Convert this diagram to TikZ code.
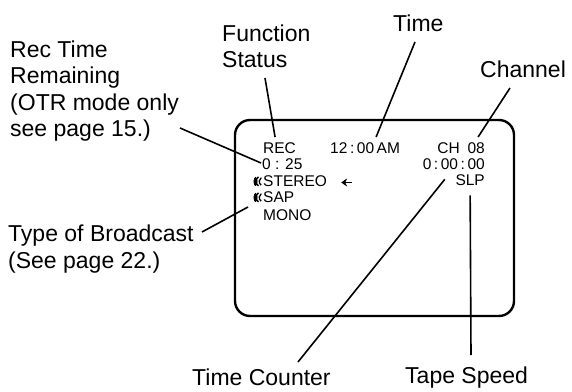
\documentclass[tikz,border=0pt]{standalone}
\usepackage{fontspec}
\setmainfont{Liberation Sans}
\usepackage{tikz}
\usetikzlibrary{arrows.meta}
\newcommand{\lblfont}{\fontsize{23}{26.5}\selectfont}
\newcommand{\osdfont}{\fontsize{15.5}{16.5}\selectfont}

\begin{document}
\begin{tikzpicture}[x=1pt,y=1pt,
  callout/.style={anchor=base west,inner sep=0pt,align=left,font=\lblfont},
  osdtxt/.style={anchor=base west,inner sep=0pt,font=\osdfont},
  leader/.style={line width=1.6pt}]
  \useasboundingbox (0,0) rectangle (572,391);
  % screen
  \draw[line width=2.4pt,rounded corners=15pt] (235,75) rectangle (514,271);
  \node[osdtxt] (rec) at (263,237) {REC};
  \node[osdtxt] (otr) at (262,221) {0 : 25};
  \node[osdtxt] (stereo) at (263,204) {STEREO};
  \node[osdtxt] (sap) at (263,188) {SAP};
  \node[osdtxt] (mono) at (263,171) {MONO};
  \node[osdtxt] (clock) at (330,237) {12\,:\,00\,AM};
  \node[osdtxt,anchor=base east] (ch) at (485,237) {CH\enspace 08};
  \node[osdtxt,anchor=base east] (count) at (485,221) {0\,:\,00\,:\,00};
  \node[osdtxt,anchor=base east] (slp) at (485,205) {SLP};
  \foreach \n in {stereo,sap}{
    \begin{scope}[shift={(\n.base west)}]
      \fill (-7.5,5.5) ellipse (2 and 4.5);
      \draw[line width=1.3pt] (-4.5,1) arc (235:125:5.6);
      \draw[line width=1.3pt] (-1.8,1.8) arc (235:125:4.6);
    \end{scope}}
  \draw[-{Stealth[length=6pt,width=8pt]},line width=1.5pt]
    ([xshift=25pt,yshift=4.5pt]stereo.base east) -- ++(-11,0);
  % callouts (multi-line: base is the last line)
  \node[callout] (rtr) at (10,254) {Rec Time\\Remaining\\(OTR mode only\\see page 15.)};
  \node[callout] (fs) at (222,323) {Function\\Status};
  \node[callout] (tm) at (393,359) {Time};
  \node[callout] (chn) at (480,313) {Channel};
  \node[callout] (tob) at (8,123) {Type of Broadcast\\(See page 22.)};
  \node[callout] (tcl) at (192,6) {Time Counter};
  \node[callout] (tsp) at (405,8) {Tape Speed};
  \coordinate (rtr-e) at (180,263);
  \coordinate (fs-e) at (265,313);
  \coordinate (tm-e) at (415,349);
  \coordinate (chn-e) at (510,303);
  \coordinate (tob-e) at (202,159);
  \coordinate (tcl-e) at (298,29);
  \coordinate (tsp-e) at (471,36);
  \draw[leader] (rtr-e) -- ([xshift=-1,yshift=7]otr.base west);
  \draw[leader] (fs-e) -- ([xshift=-4.5,yshift=6]rec.north);
  \draw[leader] (tm-e) -- ([xshift=11,yshift=6]clock.north);
  \draw[leader] (chn-e) -- ([xshift=17,yshift=6]ch.north);
  \draw[leader] (tob-e) -- ([xshift=-15,yshift=-4]sap.base west);
  \draw[leader] (tcl-e) -- ([xshift=-9,yshift=-9]count.south);
  \draw[leader] (tsp-e) -- ([yshift=-9]slp.south);
\end{tikzpicture}
\end{document}
